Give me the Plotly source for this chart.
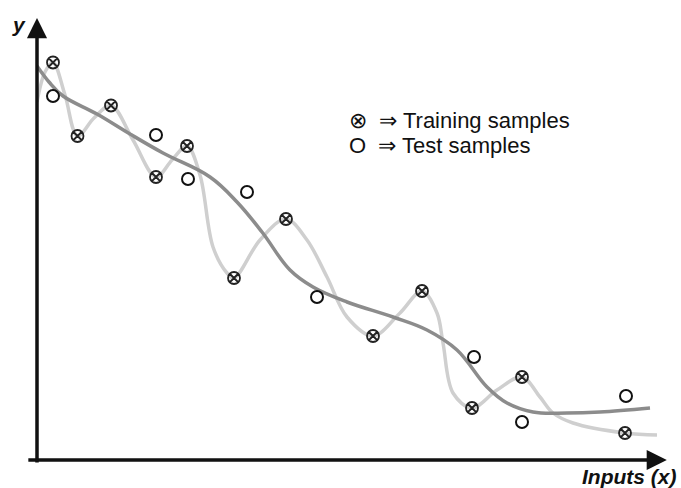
import plotly.graph_objects as go

# Data in chart units (x: input, y: output), origin at the axes corner
train_x = [16, 40.5, 74, 119, 150, 197, 249, 336, 385, 435, 485, 588]
train_y = [397.5, 324, 354.5, 283, 314, 182, 241, 124, 169, 52, 83, 27]

test_x = [16, 119, 151, 210, 280, 437, 485, 589]
test_y = [364, 325, 281, 268, 163, 103, 38, 64]

# Over-fitted curve (light) read along its path
over_x = [0, 8, 16, 28, 40.5, 57, 74, 96, 119, 135, 150, 163, 176, 190, 197, 223, 249, 270, 290, 310, 336, 363, 385, 400, 406, 416, 435, 460, 485, 503, 516, 536, 588, 620]
over_y = [358, 388, 397.5, 365, 324, 342, 354.5, 320, 283, 300, 314, 285, 213, 187, 182, 220, 241, 220, 183, 143, 124, 147, 169, 147, 117, 67, 52, 70, 83, 63, 47, 37, 27, 25]

# Smooth fit curve (dark) read along its path
fit_x = [0, 12, 26, 60, 93, 126, 173, 200, 225, 253, 276, 310, 356, 390, 420, 450, 470, 496, 530, 563, 613]
fit_y = [394, 378, 364, 346, 326, 307, 283, 258, 228, 190, 173, 158, 143, 130, 110, 73, 57, 48, 47, 48, 52]

fig = go.Figure()
fig.add_trace(go.Scatter(x=over_x, y=over_y, mode="lines",
                         line=dict(color="#cfcfcf", width=3.5, shape="spline", smoothing=1.0),
                         hoverinfo="skip", showlegend=False))
fig.add_trace(go.Scatter(x=fit_x, y=fit_y, mode="lines",
                         line=dict(color="#8c8c8c", width=3.5, shape="spline", smoothing=1.1),
                         hoverinfo="skip", showlegend=False))
fig.add_trace(go.Scatter(x=train_x, y=train_y, mode="markers", name="Training samples",
                         marker=dict(symbol="circle-x", size=12, color="rgba(255,255,255,0)",
                                     line=dict(color="#222222", width=1.8)),
                         showlegend=False))
fig.add_trace(go.Scatter(x=test_x, y=test_y, mode="markers", name="Test samples",
                         marker=dict(symbol="circle-open", size=12, color="#111111",
                                     line=dict(color="#111111", width=2)),
                         showlegend=False))

axis_font = dict(family="Liberation Sans", size=21, color="#111111")
legend_font = dict(family="Liberation Sans", size=22, color="#111111")

fig.update_layout(
    width=681, height=488,
    margin=dict(l=37, r=11, t=18, b=28),
    paper_bgcolor="white", plot_bgcolor="white",
    xaxis=dict(range=[0, 633], visible=False, fixedrange=True),
    yaxis=dict(range=[0, 442], visible=False, fixedrange=True),
    annotations=[
        # x axis arrow
        dict(xref="paper", yref="paper", x=0.995, y=0, axref="pixel", ayref="pixel",
             ax=-640, ay=0, text="", showarrow=True, arrowhead=2, arrowsize=1.15,
             arrowwidth=3.5, arrowcolor="#111111"),
        # y axis arrow
        dict(xref="paper", yref="paper", x=0, y=1, axref="pixel", ayref="pixel",
             ax=0, ay=446, text="", showarrow=True, arrowhead=2, arrowsize=1.15,
             arrowwidth=3.5, arrowcolor="#111111"),
        dict(xref="paper", yref="paper", x=1.015, y=0, yshift=-3, xanchor="right", yanchor="top",
             text="<b><i>Inputs (x)</i></b>", showarrow=False, font=axis_font),
        dict(xref="paper", yref="paper", x=0, y=1, xshift=-27, yshift=-6, xanchor="left", yanchor="middle",
             text="<b><i>y</i></b>", showarrow=False, font=axis_font),
        dict(xref="paper", yref="paper", x=0.49, y=0.768, xanchor="left", yanchor="middle",
             text="⊗ &nbsp;⇒ Training samples", showarrow=False, font=legend_font),
        dict(xref="paper", yref="paper", x=0.49, y=0.711, xanchor="left", yanchor="middle",
             text="O &nbsp;⇒ Test samples", showarrow=False, font=legend_font),
    ],
)

fig.write_html("out.html")
